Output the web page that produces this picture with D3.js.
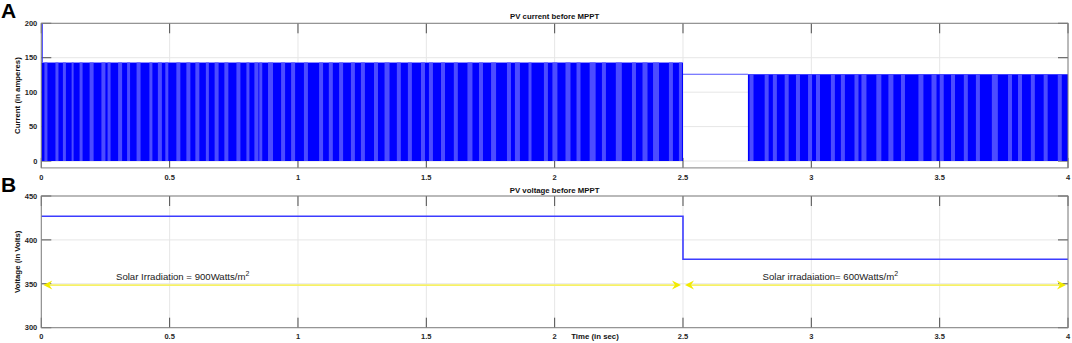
<!DOCTYPE html>
<html><head><meta charset="utf-8">
<script src="https://cdn.jsdelivr.net/npm/d3@7"></script>
<style>
html,body{margin:0;padding:0;background:#fff;}
svg{display:block;font-family:"Liberation Sans",Arial,sans-serif;}
</style></head>
<body><svg id="c" width="1072" height="343"></svg>
<script>
// ---------- data ----------
const xTicks = [0, 0.5, 1, 1.5, 2, 2.5, 3, 3.5, 4];
const xTickLabels = ["0", "0.5", "1", "1.5", "2", "2.5", "3", "3.5", "4"];
const currentTicks = [0, 50, 100, 150, 200];
const voltageTicks = [300, 350, 400, 450];

// PV current: switching envelope blocks (start, end, peak amperes)
const blockStart = [0, 2.753];
const blockEnd = [2.5, 4];
const blockPeak = [143, 126];
const startSpike = 200;          // transient at t = 0
const flatTime = [2.5, 2.753];   // current held constant between blocks
const flatValue = [126, 126];
// lighter stripes in the switching pattern (seconds)
const stripeTimes = [0.018,0.061,0.090,0.122,0.155,0.196,0.242,0.264,0.307,0.340,0.379,0.427,0.462,0.489,0.534,0.573,0.608,0.647,0.683,0.721,0.768,0.805,0.838,
 0.855,0.893,0.942,0.981,1.031,1.090,1.128,1.168,1.214,1.253,1.304,1.347,1.393,1.436,1.487,1.518,1.565,1.615,1.670,
 1.713,1.762,1.822,1.855,1.904,1.966,2.001,2.052,2.093,2.148,2.192,2.250,2.309,2.352,2.395,2.453,2.490,
 2.767,2.826,2.858,2.904,2.948,2.995,3.026,3.084,3.123,3.176,3.205,3.263,3.310,3.357,3.427,3.478,3.508,3.552,3.602,3.649,3.715,3.774,3.813,3.863,3.913,3.968];
const stripeWidths = [3,3,3,2,3,4,4,3,4,3,4,3,4,3,4,4,4,3,4,4,4,3,4,
 3,5,4,4,4,4,4,4,4,4,4,5,4,4,4,4,4,4,5,
 4,5,4,5,3,4,5,5,4,6,4,6,4,5,6,4,3,
 4,4,4,4,4,4,4,4,4,4,5,5,5,4,5,5,4,4,4,4,6,4,4,4,4,4];

// PV voltage
const voltTime = [0, 2.5, 2.5, 4];
const voltValue = [427, 427, 378, 378];

// irradiation annotations
const arrowStart = [0, 2.5];
const arrowEnd = [2.5, 4];
const arrowLevel = 348.5;
const noteTime = [0.291, 2.81];
const noteValue = [354.5, 354.5];
const noteText = ["Solar Irradiation = 900Watts/m", "Solar irradaiation= 600Watts/m"];

// ---------- drawing ----------
const svg = d3.select("#c");
const L = 41.3, R = 1068;
const x = d3.scaleLinear().domain([0, 4]).range([L, R]);
const yA = d3.scaleLinear().domain([-10, 200]).range([167.9, 23.3]);
const yB = d3.scaleLinear().domain([300, 450]).range([327.7, 196]);

const gridC = "#e6e6e6", tickC = "#4d4d4d", boxC = "#808080", labC = "#262626";

function axesBase(y, yt) {
  const g = svg.append("g");
  const [y0, y1] = y.range(); // bottom, top
  g.selectAll(".gx").data(xTicks).join("line")
    .attr("x1", d => x(d)).attr("x2", d => x(d)).attr("y1", y0).attr("y2", y1)
    .attr("stroke", gridC).attr("stroke-width", 1);
  g.selectAll(".gy").data(yt).join("line")
    .attr("x1", L).attr("x2", R).attr("y1", d => y(d)).attr("y2", d => y(d))
    .attr("stroke", gridC).attr("stroke-width", 1);
  const tl = 10;
  g.selectAll(".tb").data(xTicks).join("line")
    .attr("x1", d => x(d)).attr("x2", d => x(d)).attr("y1", y0).attr("y2", y0 - tl)
    .attr("stroke", tickC);
  g.selectAll(".tt").data(xTicks).join("line")
    .attr("x1", d => x(d)).attr("x2", d => x(d)).attr("y1", y1).attr("y2", y1 + tl)
    .attr("stroke", tickC);
  g.selectAll(".tl").data(yt).join("line")
    .attr("x1", L).attr("x2", L + tl).attr("y1", d => y(d)).attr("y2", d => y(d))
    .attr("stroke", tickC);
  g.selectAll(".tr").data(yt).join("line")
    .attr("x1", R).attr("x2", R - tl).attr("y1", d => y(d)).attr("y2", d => y(d))
    .attr("stroke", tickC);
  return g;
}

function axesLabels(y, yt, xLabY) {
  const g = svg.append("g").attr("font-size", 7.5).attr("font-weight", "bold").attr("fill", labC);
  g.selectAll(".xl").data(xTicks).join("text")
    .attr("x", (d) => x(d)).attr("y", xLabY).attr("text-anchor", "middle")
    .text((d, i) => xTickLabels[i]);
  g.selectAll(".yl").data(yt).join("text")
    .attr("x", L - 4).attr("y", d => y(d) + 2.7).attr("text-anchor", "end")
    .text(d => d);
  const [y0, y1] = y.range();
  svg.append("rect").attr("x", L).attr("y", y1).attr("width", R - L).attr("height", y0 - y1)
    .attr("fill", "none").attr("stroke", boxC).attr("stroke-width", 1);
}

// ---- Panel A ----
axesBase(yA, currentTicks);
const gA = svg.append("g");
blockStart.forEach((s, i) => {
  gA.append("rect").attr("x", x(s)).attr("y", yA(blockPeak[i]))
    .attr("width", x(blockEnd[i]) - x(s)).attr("height", yA(0) - yA(blockPeak[i]))
    .attr("fill", "#0000ff");
});
stripeTimes.forEach((t, i) => {
  const bi = t < 2.6 ? 0 : 1;
  gA.append("rect").attr("x", x(t) - stripeWidths[i] / 2).attr("y", yA(blockPeak[bi]))
    .attr("width", stripeWidths[i]).attr("height", yA(0) - yA(blockPeak[bi]))
    .attr("fill", "#4c4cff");
});
gA.append("line").attr("x1", x(0) + 1).attr("x2", x(0) + 1)
  .attr("y1", yA(startSpike)).attr("y2", yA(blockPeak[0])).attr("stroke", "#3030ff").attr("stroke-width", 1);
gA.append("path")
  .attr("d", d3.line().x(d => x(d[0])).y(d => yA(d[1]))(flatTime.map((t, i) => [t, flatValue[i]])))
  .attr("stroke", "#5050ff").attr("stroke-width", 1.2).attr("fill", "none");
axesLabels(yA, currentTicks, 179.5);

// ---- Panel B ----
axesBase(yB, voltageTicks);
svg.append("path")
  .attr("d", d3.line().x(d => x(d[0])).y(d => yB(d[1]))(voltTime.map((t, i) => [t, voltValue[i]])))
  .attr("stroke", "#3c3cff").attr("stroke-width", 1.6).attr("fill", "none");

const yel = "#f6f166", yelHead = "#f2ea00";
function head(px, py, dir) {
  const len = 9, hw = 4.5, back = 3;
  return `M${px},${py} L${px - dir * len},${py - hw} L${px - dir * (len - back)},${py} L${px - dir * len},${py + hw} Z`;
}
arrowStart.forEach((s, i) => {
  const x1 = x(s) + 2, x2 = x(arrowEnd[i]) - 2, yy = yB(arrowLevel);
  svg.append("line").attr("x1", x1 + 4).attr("x2", x2 - 4).attr("y1", yy).attr("y2", yy)
    .attr("stroke", yel).attr("stroke-width", 1.6);
  svg.append("path").attr("d", head(x1, yy, -1)).attr("fill", yelHead);
  svg.append("path").attr("d", head(x2, yy, 1)).attr("fill", yelHead);
});
noteTime.forEach((t, i) => {
  const tx = svg.append("text").attr("x", x(t)).attr("y", yB(noteValue[i]))
    .attr("font-size", 9.6).attr("fill", "#1a1a1a");
  tx.append("tspan").text(noteText[i]);
  tx.append("tspan").attr("dy", -4).attr("font-size", 7).text("2");
});
axesLabels(yB, voltageTicks, 338.5);

// titles & axis labels
const tg = svg.append("g").attr("font-weight", "bold").attr("fill", "#111");
tg.append("text").attr("x", (L + R) / 2).attr("y", 19).attr("text-anchor", "middle")
  .attr("font-size", 7.8).text("PV current before MPPT");
tg.append("text").attr("x", (L + R) / 2).attr("y", 193).attr("text-anchor", "middle")
  .attr("font-size", 7.8).text("PV voltage before MPPT");
tg.append("text").attr("transform", `translate(20,${(yA(200) + yA(-10)) / 2}) rotate(-90)`)
  .attr("text-anchor", "middle").attr("font-size", 7.8).text("Current (in amperes)");
tg.append("text").attr("transform", `translate(20,${(yB(450) + yB(300)) / 2}) rotate(-90)`)
  .attr("text-anchor", "middle").attr("font-size", 7.8).text("Voltage (in Volts)");
tg.append("text").attr("x", 595).attr("y", 338.5).attr("text-anchor", "middle")
  .attr("font-size", 7.8).text("Time (in sec)");
svg.append("text").attr("x", 1).attr("y", 18).attr("font-size", 21).attr("font-weight", "bold").text("A");
svg.append("text").attr("x", 1).attr("y", 192).attr("font-size", 21).attr("font-weight", "bold").text("B");
</script></body></html>
